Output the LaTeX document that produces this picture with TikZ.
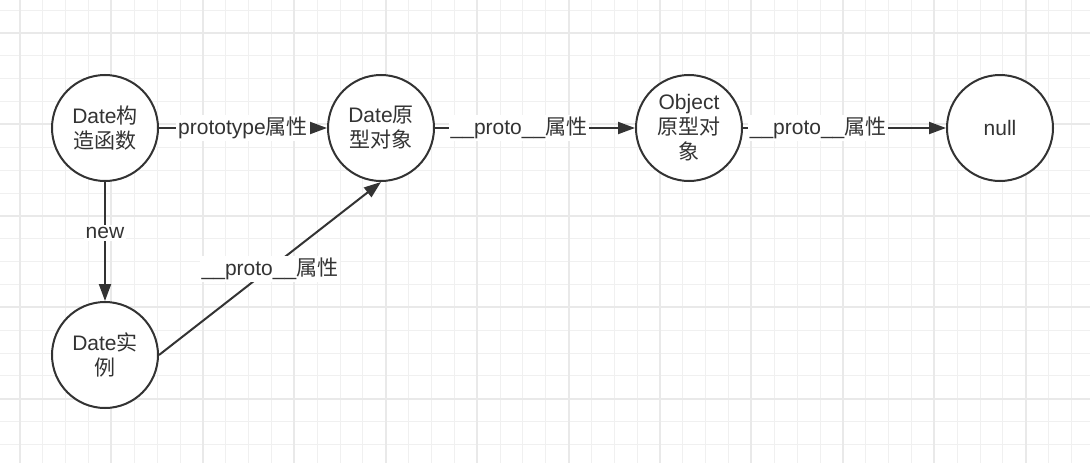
\documentclass[tikz,border=0pt]{standalone}
\usepackage{fontspec}
\setmainfont{Liberation Sans}
\newfontfamily\cjk{Noto Sans CJK SC}
\newcommand{\zhtext}[1]{{\cjk #1}}
\usetikzlibrary{arrows.meta}
\definecolor{ink}{HTML}{333333}
\definecolor{gridminor}{HTML}{F0F0F0}
\definecolor{gridmajor}{HTML}{E9E9E9}

\begin{document}
\begin{tikzpicture}[x=1pt,y=-1pt,>={Triangle[length=17pt,width=12pt]},
  obj/.style={circle,draw=ink,line width=2pt,fill=white,minimum size=106pt,
    inner sep=0pt,align=center,text=ink,font=\fontsize{21}{25}\selectfont},
  link/.style={->,draw=ink,line width=2pt},
  lbl/.style={fill=white,inner sep=2pt,text=ink,font=\fontsize{21}{24}\selectfont}]
\useasboundingbox (0,0) rectangle (1090,463);
\fill[white] (0,0) rectangle (1090,463);

%background grid
\foreach \k in {-1,...,46}
  \draw[gridminor,line width=1pt] ({20+22.857*\k},0)--({20+22.857*\k},463);
\foreach \k in {-1,...,18}
  \draw[gridminor,line width=1pt] (0,{33+22.857*\k})--(1090,{33+22.857*\k});
\foreach \k in {0,...,11}
  \draw[gridmajor,line width=2pt] ({20+91.43*\k},0)--({20+91.43*\k},463);
\foreach \k in {0,...,4}
  \draw[gridmajor,line width=2pt] (0,{33+91.43*\k})--(1090,{33+91.43*\k});

%objects
\node[obj] (ctor)  at (105,128)  {Date\zhtext{构}\\\zhtext{造函数}};
\node[obj] (proto) at (381,128)  {Date\zhtext{原}\\\zhtext{型对象}};
\node[obj] (objp)  at (689,128)  {Object\\\zhtext{原型对}\\\zhtext{象}};
\node[obj] (nul)   at (1000,128) {null};
\node[obj] (inst)  at (105,355)  {Date\zhtext{实}\\\zhtext{例}};

%prototype chain
\draw[link] (ctor)  -- node[lbl,pos=0.5]  {prototype\zhtext{属性}} (proto);
\draw[link] (proto) -- node[lbl,pos=0.42] {\_\_proto\_\_\zhtext{属性}} (objp);
\draw[link] (objp)  -- node[lbl,pos=0.37] {\_\_proto\_\_\zhtext{属性}} (nul);

%instance
\draw[link] (ctor)      -- node[lbl,pos=0.43] {new} (inst);
\draw[link] (inst.east) -- node[lbl,pos=0.5]  {\_\_proto\_\_\zhtext{属性}} (proto.south);

\end{tikzpicture}
\end{document}
